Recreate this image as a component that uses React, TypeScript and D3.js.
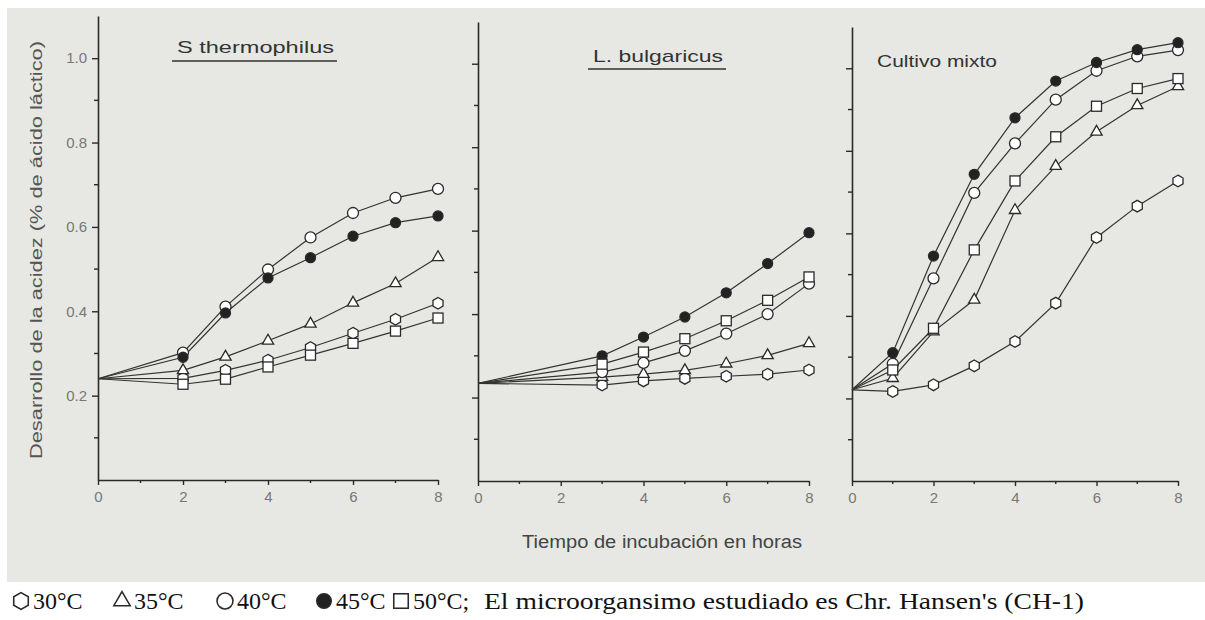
import React, { useEffect, useRef } from "react";
import * as d3 from "d3";

// hours sampled in each panel (0 h = common starting acidity, drawn without marker)
const thermoHours = [0, 2, 3, 4, 5, 6, 7, 8];
const thermo30 = [0.24, 0.241, 0.26, 0.284, 0.314, 0.348, 0.381, 0.419];
const thermo35 = [0.24, 0.26, 0.292, 0.33, 0.37, 0.42, 0.466, 0.528];
const thermo40 = [0.24, 0.302, 0.411, 0.499, 0.575, 0.633, 0.669, 0.69];
const thermo45 = [0.24, 0.291, 0.396, 0.479, 0.527, 0.578, 0.61, 0.626];
const thermo50 = [0.24, 0.227, 0.239, 0.268, 0.296, 0.324, 0.353, 0.384];

const bulgHours = [0, 3, 4, 5, 6, 7, 8];
const bulg30 = [0.234, 0.23, 0.24, 0.246, 0.251, 0.256, 0.266];
const bulg35 = [0.234, 0.249, 0.256, 0.265, 0.281, 0.301, 0.33];
const bulg40 = [0.234, 0.261, 0.283, 0.312, 0.353, 0.4, 0.473];
const bulg45 = [0.234, 0.3, 0.345, 0.393, 0.451, 0.521, 0.595];
const bulg50 = [0.234, 0.28, 0.309, 0.341, 0.384, 0.433, 0.489];

const mixHours = [0, 1, 2, 3, 4, 5, 6, 7, 8];
const mix30 = [0.221, 0.217, 0.233, 0.279, 0.338, 0.431, 0.59, 0.666, 0.727];
const mix35 = [0.221, 0.249, 0.362, 0.439, 0.656, 0.763, 0.846, 0.91, 0.956];
const mix40 = [0.221, 0.284, 0.491, 0.698, 0.818, 0.924, 0.994, 1.029, 1.044];
const mix45 = [0.221, 0.311, 0.545, 0.743, 0.88, 0.969, 1.014, 1.045, 1.062];
const mix50 = [0.221, 0.269, 0.37, 0.56, 0.727, 0.834, 0.908, 0.951, 0.975];

const temps = [30, 35, 40, 45, 50];
const tempLabels = ["30°C", "35°C", "40°C", "45°C", "50°C;"];
const xTicks = [0, 2, 4, 6, 8];
const xMinor = [1, 3, 5, 7];
const yTicks = [0.2, 0.4, 0.6, 0.8, 1.0];
const yMinor = [0.1, 0.3, 0.5, 0.7, 0.9];

const W = 1205;
const H = 620;
const INK = "#2a2a2a";
const SANS = "'Liberation Sans', Arial, sans-serif";
const SERIF = "'Liberation Serif', 'Times New Roman', serif";

const panels = [
  {
    title: "S thermophilus",
    hours: thermoHours,
    series: [thermo30, thermo35, thermo40, thermo45, thermo50],
    xRange: [98, 438],
    yRange: [480, 16],
    titleX: 177,
    titleY: 53,
    titleW: 157,
    underline: [172, 337, 61],
    labels: true,
  },
  {
    title: "L. bulgaricus",
    hours: bulgHours,
    series: [bulg30, bulg35, bulg40, bulg45, bulg50],
    xRange: [478, 809],
    yRange: [481, 22],
    titleX: 593,
    titleY: 62,
    titleW: 130,
    underline: [588, 726, 69],
    labels: false,
  },
  {
    title: "Cultivo mixto",
    hours: mixHours,
    series: [mix30, mix35, mix40, mix45, mix50],
    xRange: [852, 1178],
    yRange: [481, 27],
    titleX: 877,
    titleY: 67,
    titleW: 120,
    underline: null,
    labels: false,
  },
];

const hexPath = (r) =>
  d3.range(6).map((k) => {
    const a = (Math.PI / 3) * k - Math.PI / 2;
    return [r * Math.cos(a), r * Math.sin(a)];
  });

// one marker shape per temperature
function drawMarker(g, temp, cx, cy, s = 1) {
  const sw = 1.3 * Math.min(s, 1.2);
  if (temp === 30) {
    g.append("path")
      .attr("d", d3.line()(hexPath(5.8 * s)) + "Z")
      .attr("transform", `translate(${cx},${cy})`)
      .attr("fill", "#fff")
      .attr("stroke", INK)
      .attr("stroke-width", sw);
  } else if (temp === 35) {
    g.append("path")
      .attr("d", d3.symbol().type(d3.symbolTriangle).size(55 * s * s)())
      .attr("transform", `translate(${cx},${cy})`)
      .attr("fill", "#fff")
      .attr("stroke", INK)
      .attr("stroke-width", sw);
  } else if (temp === 40 || temp === 45) {
    g.append("circle")
      .attr("cx", cx)
      .attr("cy", cy)
      .attr("r", (temp === 40 ? 5.5 : 5) * s)
      .attr("fill", temp === 40 ? "#fff" : "#222")
      .attr("stroke", INK)
      .attr("stroke-width", sw);
  } else {
    g.append("rect")
      .attr("x", cx - 5 * s)
      .attr("y", cy - 5 * s)
      .attr("width", 10 * s)
      .attr("height", 10 * s)
      .attr("fill", "#fff")
      .attr("stroke", INK)
      .attr("stroke-width", sw);
  }
}

const App = () => {
  const svgRef = useRef(null);

  useEffect(() => {
    const svg = d3.select(svgRef.current);
    svg.selectAll("*").remove();

    svg.append("rect").attr("width", W).attr("height", H).attr("fill", "#fff");
    svg
      .append("rect")
      .attr("x", 7)
      .attr("y", 8)
      .attr("width", W - 7)
      .attr("height", 574)
      .attr("fill", "#e7e8e3");

    panels.forEach((p) => {
      const x = d3.scaleLinear().domain([0, 8]).range(p.xRange);
      const y = d3.scaleLinear().domain([0, 1.1]).range(p.yRange);
      const g = svg.append("g");

      // y axis
      const yAxis = g
        .append("g")
        .attr("transform", `translate(${p.xRange[0]},0)`)
        .call(
          d3
            .axisLeft(y)
            .tickValues(yTicks)
            .tickSize(6)
            .tickSizeOuter(0)
            .tickPadding(5)
            .tickFormat(p.labels ? d3.format(".1f") : () => "")
        );
      yAxis.select(".domain").attr("stroke", INK).attr("stroke-width", 1.6);
      yAxis.selectAll("line").attr("stroke", INK).attr("stroke-width", 1.4);
      yAxis
        .selectAll("text")
        .attr("fill", "#777")
        .attr("font-family", SANS)
        .attr("font-size", 15);
      g.append("g")
        .selectAll("line")
        .data(yMinor)
        .join("line")
        .attr("x1", p.xRange[0] - 4)
        .attr("x2", p.xRange[0])
        .attr("y1", (d) => y(d))
        .attr("y2", (d) => y(d))
        .attr("stroke", INK)
        .attr("stroke-width", 1.4);

      // x axis
      const xAxis = g
        .append("g")
        .attr("transform", `translate(0,${p.yRange[0]})`)
        .call(
          d3
            .axisBottom(x)
            .tickValues(xTicks)
            .tickSize(5)
            .tickSizeOuter(0)
            .tickPadding(6)
            .tickFormat(d3.format("d"))
        );
      xAxis.select(".domain").attr("stroke", INK).attr("stroke-width", 1.6);
      xAxis.selectAll("line").attr("stroke", INK).attr("stroke-width", 1.4);
      xAxis
        .selectAll("text")
        .attr("fill", "#777")
        .attr("font-family", SANS)
        .attr("font-size", 15);
      g.append("g")
        .selectAll("line")
        .data(xMinor)
        .join("line")
        .attr("x1", (d) => x(d))
        .attr("x2", (d) => x(d))
        .attr("y1", p.yRange[0])
        .attr("y2", p.yRange[0] + 3)
        .attr("stroke", INK)
        .attr("stroke-width", 1.4);

      // title
      g.append("text")
        .attr("x", p.titleX)
        .attr("y", p.titleY)
        .attr("font-family", SANS)
        .attr("font-size", 17)
        .attr("textLength", p.titleW)
        .attr("lengthAdjust", "spacingAndGlyphs")
        .attr("fill", "#333")
        .text(p.title);
      if (p.underline) {
        g.append("line")
          .attr("x1", p.underline[0])
          .attr("x2", p.underline[1])
          .attr("y1", p.underline[2])
          .attr("y2", p.underline[2])
          .attr("stroke", "#333")
          .attr("stroke-width", 1.5);
      }

      // curves
      const line = d3
        .line()
        .x((d) => x(d[0]))
        .y((d) => y(d[1]));

      p.series.forEach((vals) => {
        g.append("path")
          .datum(p.hours.map((h, i) => [h, vals[i]]))
          .attr("d", line)
          .attr("fill", "none")
          .attr("stroke", "#333")
          .attr("stroke-width", 1.2);
      });

      p.series.forEach((vals, si) => {
        p.hours.forEach((h, i) => {
          if (h === 0) return;
          drawMarker(g, temps[si], x(h), y(vals[i]));
        });
      });
    });

    // axis titles
    svg
      .append("text")
      .attr("transform", "translate(42,250) rotate(-90)")
      .attr("text-anchor", "middle")
      .attr("font-family", SANS)
      .attr("font-size", 17)
      .attr("textLength", 418)
      .attr("lengthAdjust", "spacingAndGlyphs")
      .attr("fill", "#555")
      .text("Desarrollo de la acidez (% de ácido láctico)");

    svg
      .append("text")
      .attr("x", 662)
      .attr("y", 548)
      .attr("text-anchor", "middle")
      .attr("font-family", SANS)
      .attr("font-size", 18)
      .attr("textLength", 280)
      .attr("lengthAdjust", "spacingAndGlyphs")
      .attr("fill", "#444")
      .text("Tiempo de incubación en horas");

    // legend
    const legendX = [21, 122, 225, 324, 401];
    const lg = svg.append("g");
    temps.forEach((t, i) => {
      drawMarker(lg, t, legendX[i], 601, 1.45);
      lg.append("text")
        .attr("x", legendX[i] + 12)
        .attr("y", 609)
        .attr("font-family", SERIF)
        .attr("font-size", 24)
        .attr("fill", "#111")
        .text(tempLabels[i]);
    });
    lg.append("text")
      .attr("x", 484)
      .attr("y", 609)
      .attr("font-family", SERIF)
      .attr("font-size", 24)
      .attr("textLength", 600)
      .attr("lengthAdjust", "spacingAndGlyphs")
      .attr("fill", "#111")
      .text("El microorgansimo estudiado es Chr. Hansen's (CH-1)");
  }, []);

  return (
    <svg
      ref={svgRef}
      width={W}
      height={H}
      style={{ position: "absolute", left: 0, top: 0 }}
    ></svg>
  );
};

export default App;
